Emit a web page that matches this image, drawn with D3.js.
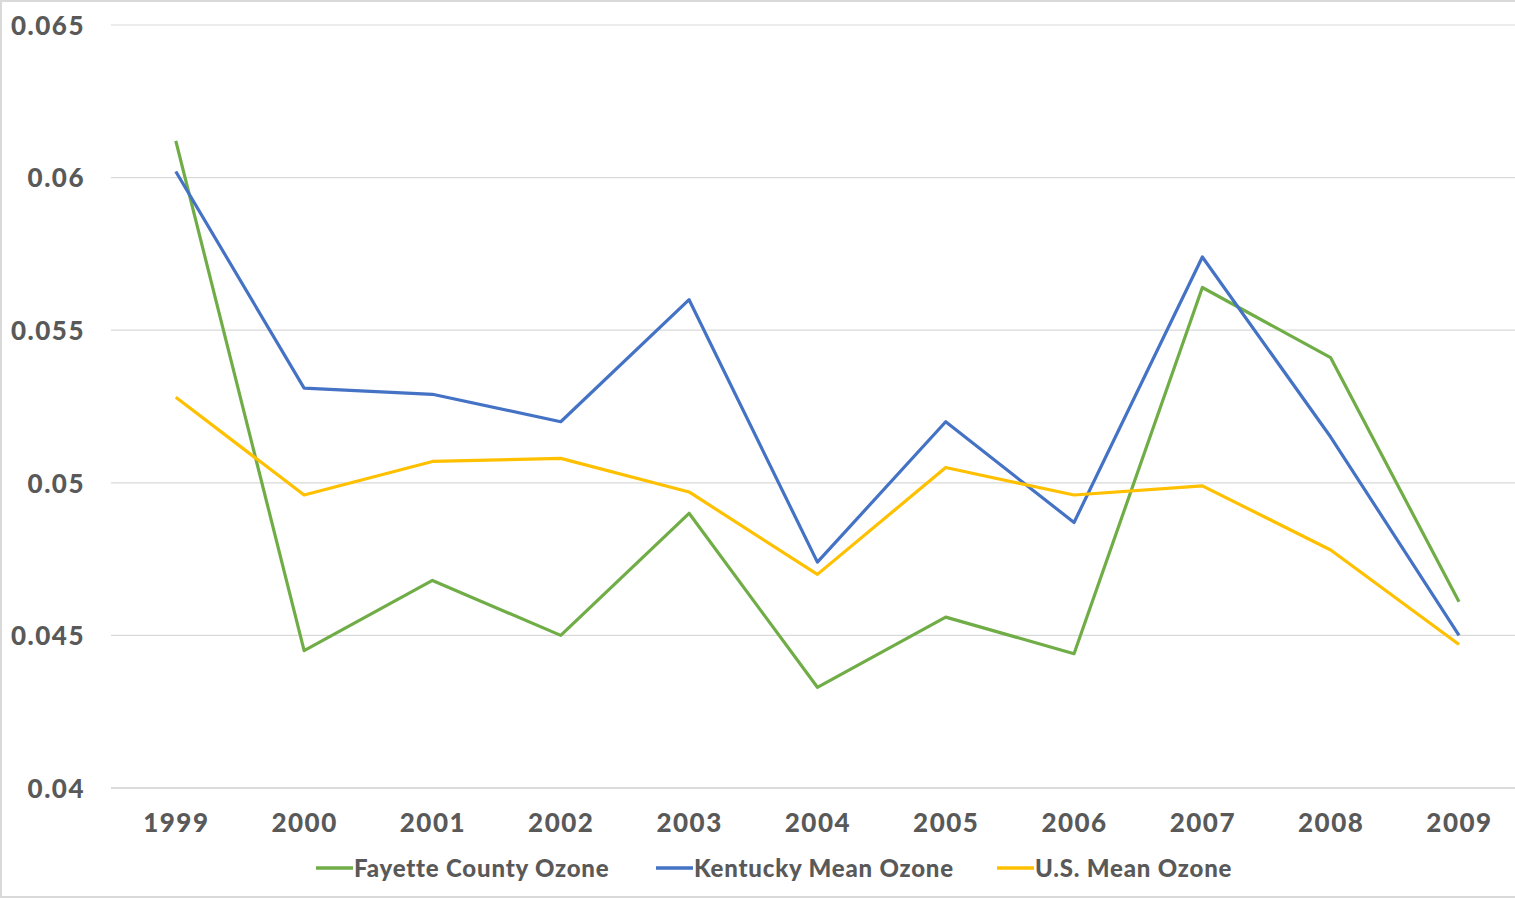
<!DOCTYPE html>
<html><head><meta charset="utf-8">
<script src="https://cdn.jsdelivr.net/npm/d3@7"></script>
<style>html,body{margin:0;padding:0;background:#fff;overflow:hidden}</style>
</head><body>
<script>
const years = ["1999","2000","2001","2002","2003","2004","2005","2006","2007","2008","2009"];
const fayette = [0.0612,0.0445,0.0468,0.0450,0.0490,0.0433,0.0456,0.0444,0.0564,0.0541,0.0461];
const kentucky = [0.0602,0.0531,0.0529,0.0520,0.0560,0.0474,0.0520,0.0487,0.0574,0.0515,0.0450];
const usMean = [0.0528,0.0496,0.0507,0.0508,0.0497,0.0470,0.0505,0.0496,0.0499,0.0478,0.0447];
const yTicks = [0.04,0.045,0.05,0.055,0.06,0.065];
const yTickLabels = ["0.04","0.045","0.05","0.055","0.06","0.065"];
const seriesNames = ["Fayette County Ozone","Kentucky Mean Ozone","U.S. Mean Ozone"];
const seriesColors = ["#70AD47","#4472C4","#FFC000"];

const W=1515,H=900;
const svg=d3.select("body").append("svg").attr("width",W).attr("height",H);
svg.append("rect").attr("x",1).attr("y",1).attr("width",W+10).attr("height",896)
  .attr("fill","#fff").attr("stroke","#d9d9d9").attr("stroke-width",2);

const x=d3.scalePoint().domain(years).range([175.8,1459]);
const y=d3.scaleLinear().domain([0.04,0.065]).range([788,25]);
const font="Lato, 'DejaVu Sans', sans-serif";

const grid=svg.append("g");
grid.selectAll("line").data(yTicks).join("line")
  .attr("x1",111).attr("x2",1525).attr("y1",d=>y(d)).attr("y2",d=>y(d))
  .attr("stroke",d=>d===0.04?"#d0d0d0":"#d9d9d9").attr("stroke-width",d=>d===0.04?1.5:1.2);

const yAxis=d3.axisLeft(y).tickValues(yTicks).tickFormat((d,i)=>yTickLabels[i]).tickSize(0).tickPadding(0);
const ya=svg.append("g").attr("transform","translate(85,0)").call(yAxis);
ya.select(".domain").remove();
ya.selectAll("text").attr("font-family",font).attr("font-weight",900).attr("font-size",26)
  .attr("letter-spacing","1.5px").attr("fill","#595959").attr("dy","0.36em");

const xAxis=d3.axisBottom(x).tickSize(0).tickPadding(0);
const xa=svg.append("g").attr("transform","translate(0,823)").call(xAxis);
xa.select(".domain").remove();
xa.selectAll("text").attr("font-family",font).attr("font-weight",900).attr("font-size",26)
  .attr("letter-spacing","1.5px").attr("fill","#595959").attr("dy","0.36em");

const all=[fayette,kentucky,usMean];
const line=d3.line().x((d,i)=>x(years[i])).y(d=>y(d));
all.forEach((s,k)=>{
  svg.append("path").datum(s).attr("d",line).attr("fill","none")
    .attr("stroke",seriesColors[k]).attr("stroke-width",3.2).attr("stroke-linejoin","round");
});

const legX=[316,656,997];
const leg=svg.append("g");
seriesNames.forEach((n,k)=>{
  const g=leg.append("g").attr("transform",`translate(${legX[k]},868)`);
  g.append("line").attr("x1",0).attr("x2",37).attr("stroke",seriesColors[k]).attr("stroke-width",3.5);
  g.append("text").attr("x",38).attr("dy","0.36em").text(n)
    .attr("font-family",font).attr("font-weight",900).attr("font-size",24)
    .attr("letter-spacing","0.8px").attr("fill","#595959");
});
</script>
</body></html>
